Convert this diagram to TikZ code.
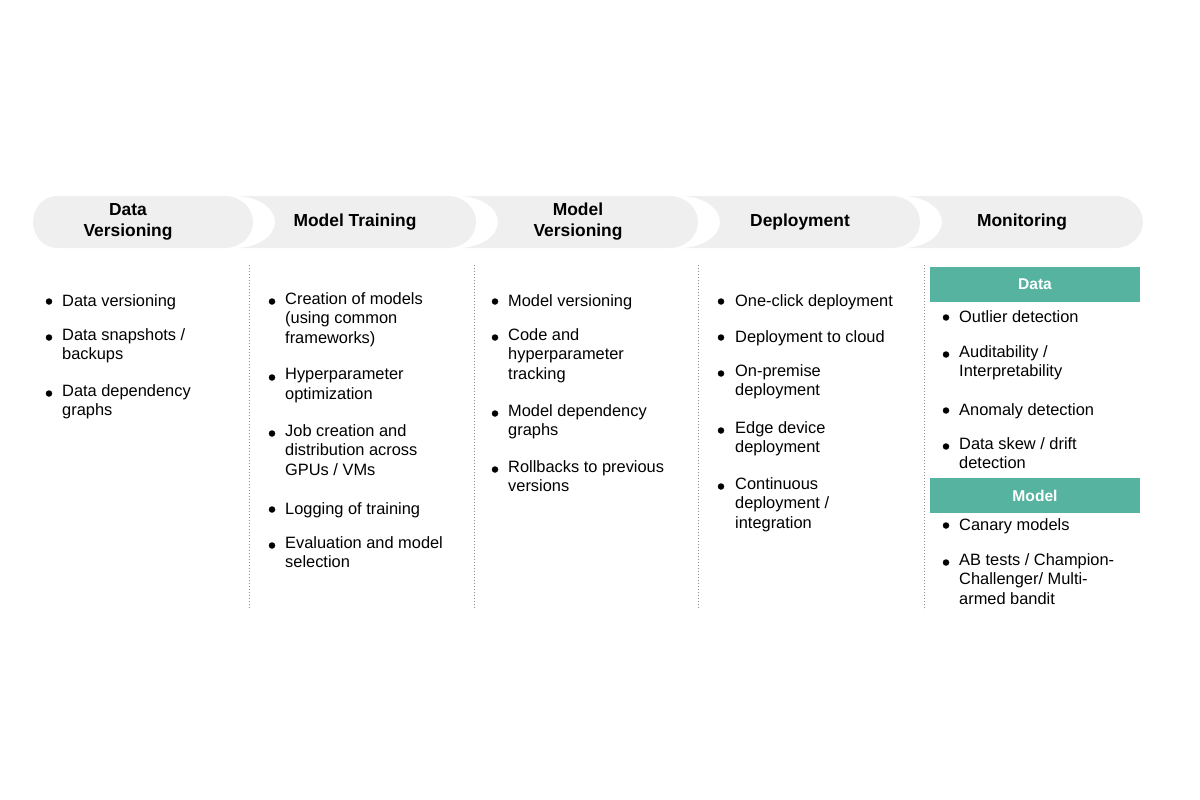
\documentclass[tikz,border=0pt]{standalone}
\usepackage{fontspec}
\setmainfont{Liberation Sans}
\usetikzlibrary{positioning}

\definecolor{stagegray}{HTML}{EFEFEF}
\definecolor{headteal}{HTML}{55B39F}
\definecolor{sepgray}{HTML}{8C8C8C}

\tikzset{
  stage/.style={fill=stagegray},
  stagelabel/.style={font=\fontsize{17.4}{21}\selectfont\bfseries, align=center, inner sep=0pt},
  itemtext/.style={font=\fontsize{16.4}{19.8}\selectfont, align=left, anchor=north west, inner sep=0pt, execute at begin node=\strut},
  dot/.style={circle, fill=black, inner sep=0pt, minimum size=6.5pt},
  sepline/.style={sepgray, line width=1pt, dash pattern=on 1pt off 2pt},
  headbox/.style={fill=headteal, text=white, font=\fontsize{15.6}{18}\selectfont\bfseries, minimum width=210pt, minimum height=35pt, inner sep=0pt},
}

\begin{document}
\begin{tikzpicture}[x=1pt, y=-1pt]

\useasboundingbox (0,0) rectangle (1200,800);

% Stage band: first pill, then four notched pills
\fill[stage] (57,196) arc[start angle=-90, end angle=-270, x radius=24, y radius=26] -- (225,248)
  arc[start angle=90, end angle=-90, x radius=28, y radius=26] -- cycle;
\fill[stage] (235,196) arc[start angle=-90, end angle=90, x radius=40, y radius=26] -- (448,248)
  arc[start angle=90, end angle=-90, x radius=28, y radius=26] -- cycle;
\fill[stage] (458,196) arc[start angle=-90, end angle=90, x radius=40, y radius=26] -- (670,248)
  arc[start angle=90, end angle=-90, x radius=28, y radius=26] -- cycle;
\fill[stage] (680,196) arc[start angle=-90, end angle=90, x radius=40, y radius=26] -- (892,248)
  arc[start angle=90, end angle=-90, x radius=28, y radius=26] -- cycle;
\fill[stage] (902,196) arc[start angle=-90, end angle=90, x radius=40, y radius=26] -- (1115,248)
  arc[start angle=90, end angle=-90, x radius=28, y radius=26] -- cycle;

% Stage labels
\node[stagelabel] (datav) at (128,222) {Data\\Versioning};
\node[stagelabel] (train) at (355,222) {Model Training};
\node[stagelabel] (modelv) at (578,222) {Model\\Versioning};
\node[stagelabel] (deploy) at (800,222) {Deployment};
\node[stagelabel] (monit) at (1022,222) {Monitoring};

% Column separators
\draw[sepline] (249,265) -- (249,610);
\draw[sepline] (474,265) -- (474,610);
\draw[sepline] (698,265) -- (698,610);
\draw[sepline] (924,265) -- (924,610);

% Data versioning column
\node[dot] (dvb1) at (49,301.5) {};
\node[itemtext] (dv1) at (62,292) {Data versioning};
\node[dot] (dvb2) at (49,337.5) {};
\node[itemtext] (dv2) at (62,328) {Data snapshots /\\backups};
\node[dot] (dvb3) at (49,393.5) {};
\node[itemtext] (dv3) at (62,384) {Data dependency\\graphs};

% Model training column
\node[dot] (mtb1) at (272,301.5) {};
\node[itemtext] (mt1) at (285,292) {Creation of models\\(using common\\frameworks)};
\node[dot] (mtb2) at (272,377.5) {};
\node[itemtext] (mt2) at (285,368) {Hyperparameter\\optimization};
\node[dot] (mtb3) at (272,433.5) {};
\node[itemtext] (mt3) at (285,424) {Job creation and\\distribution across\\GPUs / VMs};
\node[dot] (mtb4) at (272,509.5) {};
\node[itemtext] (mt4) at (285,500) {Logging of training};
\node[dot] (mtb5) at (272,545.5) {};
\node[itemtext] (mt5) at (285,536) {Evaluation and model\\selection};

% Model versioning column
\node[dot] (mvb1) at (495,301.5) {};
\node[itemtext] (mv1) at (508,292) {Model versioning};
\node[dot] (mvb2) at (495,337.5) {};
\node[itemtext] (mv2) at (508,328) {Code and\\hyperparameter\\tracking};
\node[dot] (mvb3) at (495,413.5) {};
\node[itemtext] (mv3) at (508,404) {Model dependency\\graphs};
\node[dot] (mvb4) at (495,469.5) {};
\node[itemtext] (mv4) at (508,460) {Rollbacks to previous\\versions};

% Deployment column
\node[dot] (dpb1) at (721,301.5) {};
\node[itemtext] (dp1) at (735,292) {One-click deployment};
\node[dot] (dpb2) at (721,337.5) {};
\node[itemtext] (dp2) at (735,328) {Deployment to cloud};
\node[dot] (dpb3) at (721,373.5) {};
\node[itemtext] (dp3) at (735,364) {On-premise\\deployment};
\node[dot] (dpb4) at (721,430.5) {};
\node[itemtext] (dp4) at (735,421) {Edge device\\deployment};
\node[dot] (dpb5) at (721,486.5) {};
\node[itemtext] (dp5) at (735,477) {Continuous\\deployment /\\integration};

% Monitoring column
\node[headbox] (mondata) at (1035,284.5) {Data};
\node[dot] (mnb1) at (946,317.5) {};
\node[itemtext] (mn1) at (959,308) {Outlier detection};
\node[dot] (mnb2) at (946,354.5) {};
\node[itemtext] (mn2) at (959,345) {Auditability /\\Interpretability};
\node[dot] (mnb3) at (946,410.5) {};
\node[itemtext] (mn3) at (959,401) {Anomaly detection};
\node[dot] (mnb4) at (946,446.5) {};
\node[itemtext] (mn4) at (959,437) {Data skew / drift\\detection};
\node[headbox] (monmodel) at (1035,495.5) {Model};
\node[dot] (mnb5) at (946,525.5) {};
\node[itemtext] (mn5) at (959,516) {Canary models};
\node[dot] (mnb6) at (946,562.5) {};
\node[itemtext] (mn6) at (959,553) {AB tests / Champion-\\Challenger/ Multi-\\armed bandit};

\end{tikzpicture}
\end{document}
